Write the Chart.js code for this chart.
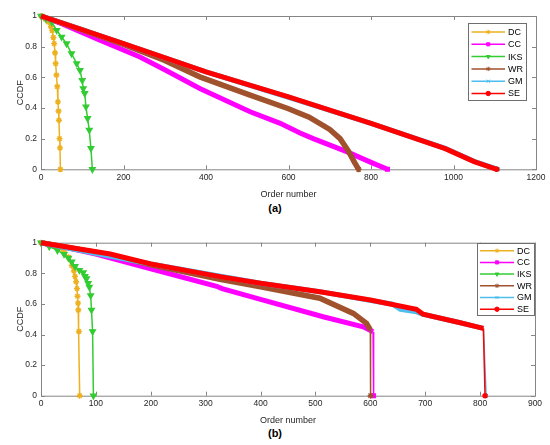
<!DOCTYPE html>
<html>
<head>
<meta charset="utf-8">
<script src="https://cdn.jsdelivr.net/npm/chart.js@4.4.1/dist/chart.umd.min.js"></script>
<style>
html, body { margin: 0; padding: 0; background: #fff; }
#wrap { position: relative; width: 550px; height: 445px; overflow: hidden; }
canvas { position: absolute; left: 0; }
.cap { position: absolute; left: 0; width: 550px; text-align: center; font: bold 11px 'Liberation Sans', Arial, sans-serif; color: #000; }
</style>
</head>
<body>
<div id="wrap">
  <canvas id="chartA" width="550" height="200" style="top:0px"></canvas>
  <div class="cap" style="top:202px">(a)</div>
  <canvas id="chartB" width="550" height="204" style="top:222px"></canvas>
  <div class="cap" style="top:427px">(b)</div>
</div>
<script>
const names = ['DC', 'CC', 'IKS', 'WR', 'GM', 'SE'];
const colors = ['#EDB120', '#FF00FF', '#33CC33', '#A0522D', '#4DBEEE', '#FF0000'];

const xTickA = [0, 200, 400, 600, 800, 1000, 1200];
const xTickB = [0, 100, 200, 300, 400, 500, 600, 700, 800, 900];
const yTick = [0, 0.2, 0.4, 0.6, 0.8, 1];

// (a) [order number, CCDF]
const dcA = [[0,1],[10,0.98],[18,0.96],[24,0.93],[27,0.905],[30,0.86],[32,0.82],[34,0.76],[35.5,0.69],[37.5,0.615],[39.5,0.54],[41,0.44],[42.5,0.38],[43.5,0.32],[45,0.2],[46,0.14],[47,0]];
const ccA = [[0,1],[50,0.95],[143,0.842],[240,0.733],[300,0.65],[385,0.527],[507,0.375],[580,0.3],[628,0.237],[660,0.2],[741,0.115],[800,0.045],[840,0]];
const iksA = [[0,1],[12,0.98],[26,0.96],[38,0.907],[50,0.863],[62,0.82],[74,0.755],[86.5,0.69],[94.5,0.646],[100,0.58],[102.5,0.527],[106,0.495],[109,0.408],[113,0.332],[117,0.256],[121,0.137],[124.5,0]];
const wrA = [[0,1],[100,0.91],[200,0.815],[300,0.71],[385,0.603],[507,0.484],[600,0.395],[650,0.34],[700,0.26],[725,0.2],[745,0.12],[760,0.045],[770,0]];
const gmA = [[0,1],[200,0.82],[400,0.635],[600,0.47],[800,0.3],[980,0.137],[1050,0.052],[1108,0]];
const seA = [[0,1],[200,0.82],[400,0.635],[600,0.472],[800,0.3],[980,0.135],[1050,0.05],[1105,0]];

// (b)
const dcB = [[0,1],[15,0.985],[30,0.965],[42,0.94],[50,0.905],[56,0.85],[60,0.815],[62,0.78],[64,0.745],[65.5,0.7],[66.5,0.65],[67.5,0.605],[68,0.56],[69,0.42],[70.5,0]];
const ccB = [[0,1],[50,0.965],[100,0.925],[200,0.83],[320,0.715],[330,0.7],[400,0.63],[514,0.516],[587,0.45],[605,0.418],[606,0]];
const iksB = [[0,1],[15,0.975],[30,0.95],[42,0.925],[50,0.9],[56,0.875],[62,0.845],[70,0.82],[77,0.805],[80,0.78],[83,0.765],[86,0.735],[88,0.71],[90.5,0.655],[92,0.56],[94,0.42],[95.5,0]];
const wrB = [[0,1],[126,0.92],[200,0.855],[326,0.76],[400,0.712],[508,0.637],[569,0.538],[593,0.473],[600,0.43],[600.5,0]];
const gmB = [[0,1],[200,0.861],[400,0.735],[508,0.68],[640,0.598],[655,0.565],[684,0.548],[696,0.532],[760,0.48],[806,0.44],[811,0]];
const seB = [[0,1],[126,0.926],[200,0.861],[326,0.778],[400,0.735],[508,0.68],[600,0.625],[684,0.565],[696,0.532],[760,0.48],[806,0.44],[809,0]];

const fontFam = "'Liberation Sans', Arial, sans-serif";

// marker + line look per series (thick ones are the dense-marker bands)
const styles = [
    { pointStyle: 'star', radius: 3, width: 1.5, band: false },
    { pointStyle: 'rect', radius: 2.5, width: 5, band: true },
    { pointStyle: 'triangle', rotation: 180, radius: 3.2, width: 1.5, band: false },
    { pointStyle: 'star', radius: 3, width: 5.5, band: true },
    { pointStyle: 'crossRot', radius: 2.5, width: 5, band: true },
    { pointStyle: 'circle', radius: 2, width: 5, band: true }
];

function makeSets(series) {
    return series.map((pts, i) => {
        const st = styles[i];
        const last = pts.length - 1;
        // a last segment that drops straight down has only two markers, so it stays thin
        const drop = st.band && pts[last][0] - pts[last - 1][0] < 10;
        return {
            label: names[i],
            data: pts.map(p => ({ x: p[0], y: p[1] })),
            borderColor: colors[i],
            backgroundColor: colors[i],
            borderWidth: st.width,
            segment: {
                borderWidth: c => (drop && c.p1DataIndex === last) ? 1.5 : undefined
            },
            pointStyle: st.pointStyle,
            pointRotation: st.rotation || 0,
            pointRadius: st.band ? (c => c.dataIndex === last ? st.radius : 0) : st.radius,
            pointBorderWidth: 1.4,
            tension: 0,
            clip: false,
            order: names.length - i
        };
    });
}

// box round the axes, inward ticks, and the legend inside the plot
const framePlugin = {
    id: 'frame',
    beforeDatasetsDraw(chart) {
        const { ctx, chartArea: a, scales } = chart;
        ctx.save();
        ctx.strokeStyle = '#858585';
        ctx.lineWidth = 1;
        ctx.strokeRect(a.left + 0.5, a.top + 0.5, a.right - a.left, a.bottom - a.top);
        ctx.beginPath();
        scales.x.ticks.forEach(t => {
            const px = Math.round(scales.x.getPixelForValue(t.value)) + 0.5;
            ctx.moveTo(px, a.bottom); ctx.lineTo(px, a.bottom - 4);
            ctx.moveTo(px, a.top); ctx.lineTo(px, a.top + 4);
        });
        scales.y.ticks.forEach(t => {
            const py = Math.round(scales.y.getPixelForValue(t.value)) + 0.5;
            ctx.moveTo(a.left, py); ctx.lineTo(a.left + 4, py);
            ctx.moveTo(a.right, py); ctx.lineTo(a.right - 4, py);
        });
        ctx.stroke();
        ctx.restore();
    },
    afterDraw(chart, args, o) {
        const ctx = chart.ctx;
        ctx.save();
        ctx.fillStyle = '#fff';
        ctx.fillRect(o.x, o.y, o.w, o.h);
        ctx.strokeStyle = '#6e6e6e';
        ctx.lineWidth = 1;
        ctx.strokeRect(o.x + 0.5, o.y + 0.5, o.w, o.h);
        chart.data.datasets.forEach((ds, i) => {
            const y = o.row0 + i * o.rowH;
            ctx.strokeStyle = ds.borderColor;
            ctx.lineWidth = 1.5;
            ctx.beginPath();
            ctx.moveTo(o.x0, y); ctx.lineTo(o.x1, y);
            ctx.stroke();
            ctx.fillStyle = ds.borderColor;
            ctx.lineWidth = 1;
            Chart.helpers.drawPoint(ctx, {
                pointStyle: styles[i].pointStyle,
                rotation: styles[i].rotation || 0,
                radius: 2.2,
                borderWidth: 1
            }, (o.x0 + o.x1) / 2, y);
            ctx.fillStyle = '#000';
            ctx.font = '9px ' + fontFam;
            ctx.textBaseline = 'middle';
            ctx.fillText(ds.label, o.tx, y + 0.5);
        });
        ctx.restore();
    }
};

function makeChart(id, series, xTicks, lay) {
    return new Chart(document.getElementById(id), {
        type: 'line',
        data: { datasets: makeSets(series) },
        options: {
            responsive: false,
            animation: false,
            events: [],
            layout: { padding: { top: lay.top, right: lay.right, left: 0, bottom: 0 } },
            plugins: {
                legend: { display: false },
                tooltip: { enabled: false },
                frame: lay.legend
            },
            scales: {
                x: {
                    type: 'linear',
                    min: xTicks[0],
                    max: xTicks[xTicks.length - 1],
                    afterBuildTicks: s => { s.ticks = xTicks.map(v => ({ value: v })); },
                    afterFit: s => { s.height = lay.xh; },
                    grid: { display: false, drawTicks: false },
                    border: { display: false },
                    ticks: { padding: 3, color: '#262626', maxRotation: 0, font: { family: fontFam, size: 8.5 }, callback: v => String(v) },
                    title: { display: true, text: 'Order number', color: '#262626', font: { family: fontFam, size: 9 }, padding: { top: 5.6, bottom: 0 } }
                },
                y: {
                    type: 'linear',
                    min: 0,
                    max: 1,
                    afterBuildTicks: s => { s.ticks = yTick.map(v => ({ value: v })); },
                    afterFit: s => { s.width = 41; },
                    grid: { display: false, drawTicks: false },
                    border: { display: false },
                    ticks: { padding: 4, color: '#262626', font: { family: fontFam, size: 8.5 }, callback: v => String(v) },
                    title: { display: true, text: 'CCDF', color: '#262626', font: { family: fontFam, size: 9 }, padding: { top: 15.3, bottom: 0 } }
                }
            }
        },
        plugins: [framePlugin]
    });
}

makeChart('chartA', [dcA, ccA, iksA, wrA, gmA, seA], xTickA, {
    top: 16, right: 14, xh: 30.7,
    legend: { x: 468, y: 23, w: 58, h: 77, row0: 32, rowH: 12.3, x0: 471.5, x1: 505, tx: 508 }
});

makeChart('chartB', [dcB, ccB, iksB, wrB, gmB, seB], xTickB, {
    top: 20.7, right: 15, xh: 30.3,
    legend: { x: 477, y: 21, w: 57, h: 72, row0: 28.7, rowH: 11.7, x0: 480, x1: 514, tx: 517 }
});
</script>
</body>
</html>
